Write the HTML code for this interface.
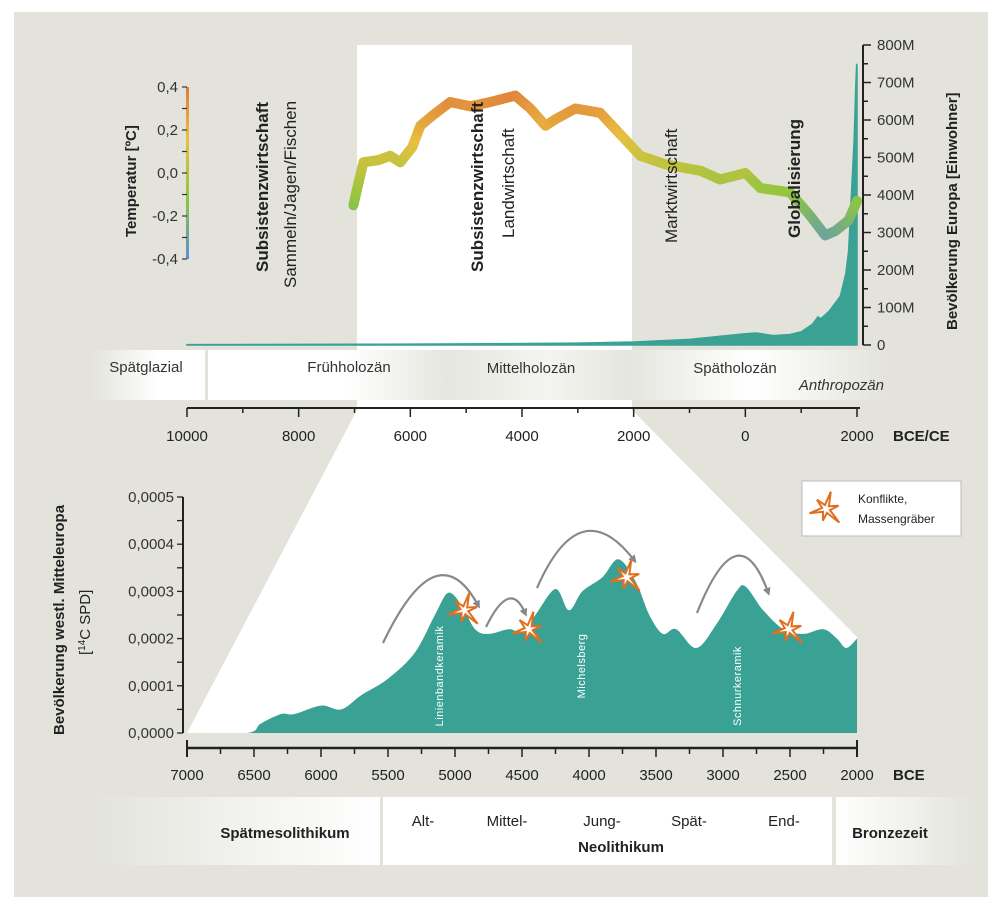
<!DOCTYPE html>
<html><head><meta charset="utf-8">
<style>
html,body{margin:0;padding:0;background:#fff;}
svg{display:block;font-family:"Liberation Sans",sans-serif;}
</style></head>
<body>
<svg id="chart" width="1000" height="909" viewBox="0 0 1000 909" xmlns="http://www.w3.org/2000/svg">
<defs>
<linearGradient id="tempbar" x1="0" y1="1" x2="0" y2="0">
<stop offset="0" stop-color="#5b8fd6"/><stop offset="0.35" stop-color="#8cc63f"/><stop offset="0.7" stop-color="#e8c040"/><stop offset="1" stop-color="#e07a3a"/>
</linearGradient>
<linearGradient id="band1" x1="0" x2="1"><stop offset="0" stop-color="#e3e3dc"/><stop offset="0.6" stop-color="#fff"/><stop offset="1" stop-color="#fff"/></linearGradient>
<linearGradient id="band2" x1="0" x2="1"><stop offset="0" stop-color="#fff"/><stop offset="0.2" stop-color="#fff"/><stop offset="0.35" stop-color="#e6e6e0"/><stop offset="0.5" stop-color="#f4f4f0"/><stop offset="0.62" stop-color="#e6e6e0"/><stop offset="0.8" stop-color="#fff"/><stop offset="1" stop-color="#e3e3dc"/></linearGradient>
<linearGradient id="band3" x1="0" x2="1"><stop offset="0" stop-color="#e3e3dc"/><stop offset="1" stop-color="#fff"/></linearGradient>
<linearGradient id="band4" x1="0" x2="1"><stop offset="0" stop-color="#fff"/><stop offset="1" stop-color="#e3e3dc"/></linearGradient>
<marker id="arr" markerWidth="8" markerHeight="8" refX="4" refY="4" orient="auto" markerUnits="userSpaceOnUse"><path d="M0,0 L8,4 L0,8 z" fill="#888"/></marker>
</defs>
<rect x="14" y="12" width="974" height="885" fill="#e3e3dc"/>
<polygon points="357,45 632,45 632,410 857,637 857,733 187,733 357,410" fill="#fff"/>
<rect x="90" y="350" width="115" height="50" fill="url(#band1)"/>
<rect x="208" y="350" width="680" height="50" fill="url(#band2)"/>
<g font-size="15" fill="#333">
<text x="146" y="372" text-anchor="middle">Spätglazial</text>
<text x="349" y="372" text-anchor="middle">Frühholozän</text>
<text x="531" y="373" text-anchor="middle">Mittelholozän</text>
<text x="735" y="373" text-anchor="middle">Spätholozän</text>
<text x="884" y="390" text-anchor="end" font-style="italic">Anthropozän</text>
</g>
<g id="topAxes"></g>
<g id="topPlot"></g>
<g font-size="17" fill="#222">
<text transform="translate(268,272) rotate(-90)" font-weight="bold">Subsistenzwirtschaft</text>
<text transform="translate(296,288) rotate(-90)">Sammeln/Jagen/Fischen</text>
<text transform="translate(483,272) rotate(-90)" font-weight="bold">Subsistenzwirtschaft</text>
<text transform="translate(514,238) rotate(-90)">Landwirtschaft</text>
<text transform="translate(677,243) rotate(-90)">Marktwirtschaft</text>
<text transform="translate(800,238) rotate(-90)" font-weight="bold">Globalisierung</text>
<text transform="translate(136,237) rotate(-90)" font-weight="bold" font-size="15">Temperatur [ºC]</text>
<text transform="translate(957,330) rotate(-90)" font-weight="bold" font-size="15">Bevölkerung Europa [Einwohner]</text>
<text transform="translate(64,735) rotate(-90)" font-weight="bold" font-size="15">Bevölkerung westl. Mitteleuropa</text>
<text transform="translate(90,655) rotate(-90)" font-size="15">[<tspan font-size="10" dy="-5">14</tspan><tspan dy="5">C SPD]</tspan></text>
</g>
<g id="botPlot"></g>
<g id="botAxes"></g>
<g>
<rect x="802" y="481" width="159" height="55" fill="#fff" stroke="#bbb"/>
<text x="858" y="503" font-size="12" fill="#222">Konflikte,</text>
<text x="858" y="523" font-size="12" fill="#222">Massengräber</text>
</g>
<rect x="90" y="797" width="290" height="68" fill="url(#band3)"/>
<rect x="383" y="797" width="449" height="68" fill="#fff"/>
<rect x="836" y="797" width="140" height="68" fill="url(#band4)"/>
<g font-size="15" fill="#222">
<text x="285" y="838" text-anchor="middle" font-weight="bold">Spätmesolithikum</text>
<text x="423" y="826" text-anchor="middle">Alt-</text>
<text x="507" y="826" text-anchor="middle">Mittel-</text>
<text x="602" y="826" text-anchor="middle">Jung-</text>
<text x="689" y="826" text-anchor="middle">Spät-</text>
<text x="784" y="826" text-anchor="middle">End-</text>
<text x="621" y="852" text-anchor="middle" font-weight="bold">Neolithikum</text>
<text x="890" y="838" text-anchor="middle" font-weight="bold">Bronzezeit</text>
</g>
</svg>
<script>
const NS="http://www.w3.org/2000/svg";
const tempYears=[-7020,-6950,-6840,-6570,-6360,-6180,-5965,-5820,-5590,-5285,-4925,-4570,-4120,-3850,-3580,-3400,-3045,-2600,-2240,-1880,-1430,-800,-450,0,270,800,1165,1430,1610,1850,2000];
const tempValues=[-0.15,-0.07,0.05,0.06,0.08,0.05,0.12,0.22,0.27,0.33,0.31,0.33,0.36,0.30,0.22,0.25,0.30,0.28,0.18,0.08,0.04,0.01,-0.03,0.0,-0.07,-0.09,-0.2,-0.29,-0.27,-0.22,-0.13];
const popYears=[-10000,-7000,-5000,-3000,-2000,-1000,0,200,500,800,1000,1200,1300,1350,1500,1600,1700,1800,1850,1900,1950,1980,1995,2000];
const popValues=[1,2,3,5,8,15,30,32,25,28,35,55,75,70,90,110,130,190,250,400,550,700,750,740];
const tempTicks=[-0.4,-0.2,0.0,0.2,0.4];
const tempTickLabels=["-0,4","-0,2","0,0","0,2","0,4"];
const popTicks=[0,100,200,300,400,500,600,700,800];
const popTickLabels=["0","100M","200M","300M","400M","500M","600M","700M","800M"];
const topXTicks=[-10000,-8000,-6000,-4000,-2000,0,2000];
const topXTickLabels=["10000","8000","6000","4000","2000","0","2000"];
const spdYears=[7000,6550,6450,6300,6200,6000,5850,5700,5500,5300,5150,5050,4950,4850,4750,4600,4500,4400,4250,4150,4050,3900,3780,3650,3550,3450,3350,3200,3050,2900,2830,2700,2550,2400,2250,2150,2080,2000];
const spdValues=[0,0,0.00002,0.00004,0.00004,0.000058,0.00005,0.00008,0.000115,0.00017,0.00025,0.000297,0.00027,0.00022,0.00021,0.00022,0.000215,0.00025,0.000305,0.00026,0.0003,0.00033,0.000368,0.00032,0.00025,0.00021,0.00022,0.00018,0.00023,0.0003,0.00031,0.00026,0.00022,0.00021,0.00022,0.0002,0.00018,0.0002];
const spdTicks=[0,0.0001,0.0002,0.0003,0.0004,0.0005];
const spdTickLabels=["0,0000","0,0001","0,0002","0,0003","0,0004","0,0005"];
const botXTicks=[7000,6500,6000,5500,5000,4500,4000,3500,3000,2500,2000];
const conflictYears=[4930,4450,3720,2510];
const conflictValues=[0.00026,0.00022,0.00033,0.00022];
const xTop=y=>187+(y+10000)*670/12000;
const yTemp=t=>173-t*215;
const yPop=p=>345-p*0.375;
const xBot=y=>187+(7000-y)*670/5000;
const ySpd=v=>733-v*472000;
function el(tag,attrs,parent,txt){const e=document.createElementNS(NS,tag);for(const k in attrs)e.setAttribute(k,attrs[k]);if(txt!==undefined)e.textContent=txt;parent.appendChild(e);return e;}
const topAxes=document.getElementById('topAxes'),topPlot=document.getElementById('topPlot');
const botPlot=document.getElementById('botPlot'),botAxes=document.getElementById('botAxes');
let ax=el('g',{},topAxes);


el('line',{x1:187,y1:408,x2:860,y2:408,stroke:'#222','stroke-width':2},ax);
for(let y=-10000;y<=2000;y+=1000){el('line',{x1:xTop(y),y1:408,x2:xTop(y),y2:y%2000===0?417:413,stroke:'#222','stroke-width':1.5},ax);}
topXTicks.forEach((t,i)=>{el('text',{x:xTop(t),y:441,'text-anchor':'middle','font-size':15,fill:'#222'},ax,topXTickLabels[i]);});
el('text',{x:893,y:441,'font-size':15,'font-weight':'bold',fill:'#222'},ax,'BCE/CE');
let ta=el('g',{},topAxes);


el('rect',{x:186,y:yTemp(0.4),width:3,height:yTemp(-0.4)-yTemp(0.4),fill:'url(#tempbar)'},ta);
for(let t=-0.4;t<=0.401;t+=0.1){el('line',{x1:182,y1:yTemp(t),x2:187,y2:yTemp(t),stroke:'#333','stroke-width':1.2},ta);}
tempTicks.forEach((t,i)=>{el('text',{x:178,y:yTemp(t)+5,'text-anchor':'end','font-size':15,fill:'#333'},ta,tempTickLabels[i]);});
let pa=el('g',{},topAxes);


el('line',{x1:863,y1:yPop(0),x2:863,y2:yPop(800),stroke:'#222','stroke-width':2},pa);
for(let p=0;p<=800;p+=50){el('line',{x1:863,y1:yPop(p),x2:p%100===0?871:868,y2:yPop(p),stroke:'#222','stroke-width':1.5},pa);}
popTicks.forEach((p,i)=>{el('text',{x:877,y:yPop(p)+5,'font-size':15,fill:'#333'},pa,popTickLabels[i]);});
let d='M'+xTop(popYears[0])+','+yPop(0);
popYears.forEach((y,i)=>{d+=' L'+xTop(y).toFixed(1)+','+yPop(popValues[i]).toFixed(1);});
d+=' L'+xTop(popYears[popYears.length-1])+','+yPop(0)+' Z';
let pArea=el('path',{d:d,fill:'#3aa195',stroke:'#3aa195','stroke-width':1.5},topPlot);


function tcol(t){const stops=[[-0.4,[91,143,214]],[-0.12,[140,198,63]],[0.16,[232,192,64]],[0.4,[224,122,58]]];
 if(t<=stops[0][0])return 'rgb('+stops[0][1]+')';for(let i=1;i<stops.length;i++){if(t<=stops[i][0]){const f=(t-stops[i-1][0])/(stops[i][0]-stops[i-1][0]);const a=stops[i-1][1],b=stops[i][1];return 'rgb('+a.map((v,k)=>Math.round(v+(b[k]-v)*f)).join(',')+')';}}return 'rgb('+stops[3][1]+')';}
let tg=el('g',{},topPlot);


for(let i=0;i<tempYears.length-1;i++){
 const n=8;for(let k=0;k<n;k++){const f0=k/n,f1=(k+1)/n;
  const y0=tempYears[i]+(tempYears[i+1]-tempYears[i])*f0,y1=tempYears[i]+(tempYears[i+1]-tempYears[i])*f1;
  const v0=tempValues[i]+(tempValues[i+1]-tempValues[i])*f0,v1=tempValues[i]+(tempValues[i+1]-tempValues[i])*f1;
  el('line',{x1:xTop(y0),y1:yTemp(v0),x2:xTop(y1),y2:yTemp(v1),stroke:tcol((v0+v1)/2),'stroke-width':10,'stroke-linecap':'round'},tg);}}
// bottom area (catmull-rom)
const P=spdYears.map((y,i)=>[xBot(y),ySpd(spdValues[i])]);
d='M'+P[0][0]+','+ySpd(0)+' L'+P[0][0]+','+P[0][1];
for(let i=0;i<P.length-1;i++){
 const p0=P[Math.max(0,i-1)],p1=P[i],p2=P[i+1],p3=P[Math.min(P.length-1,i+2)];
 const c1=[p1[0]+(p2[0]-p0[0])/6,p1[1]+(p2[1]-p0[1])/6],c2=[p2[0]-(p3[0]-p1[0])/6,p2[1]-(p3[1]-p1[1])/6];
 d+=' C'+c1[0].toFixed(1)+','+Math.min(733,c1[1]).toFixed(1)+' '+c2[0].toFixed(1)+','+Math.min(733,c2[1]).toFixed(1)+' '+p2[0].toFixed(1)+','+p2[1].toFixed(1);}
d+=' L'+P[P.length-1][0]+','+ySpd(0)+' Z';
let bArea=el('path',{d:d,fill:'#3aa195'},botPlot);


[['Linienbandkeramik',443,676],['Michelsberg',585,666],['Schnurkeramik',741,686]].forEach(c=>{
 const t=el('text',{transform:'translate('+c[1]+','+c[2]+') rotate(-90)','text-anchor':'middle','font-size':11,fill:'#fff','letter-spacing':'0.5'},botPlot,c[0]);
 
 });
[[383,643,437,530,478,605],[486,627,510,578,525,613],[537,588,580,490,634,560],[697,613,738,510,768,592]].forEach(a=>{
 const p=el('path',{d:'M'+a[0]+','+a[1]+' Q'+a[2]+','+a[3]+' '+a[4]+','+a[5],fill:'none',stroke:'#888','stroke-width':2.2,'marker-end':'url(#arr)'},botPlot);
 
 });
function star(cx,cy,parent){const pts=[];const r=[18,4,13,4,19,4,12,4,17,4,13,4];for(let i=0;i<12;i++){const a=i*Math.PI/6-1.3;pts.push((cx+r[i]*Math.cos(a)).toFixed(1)+','+(cy+r[i]*Math.sin(a)).toFixed(1));}
 return el('polygon',{points:pts.join(' '),fill:'#fff',stroke:'#e07020','stroke-width':2},parent);}
conflictYears.forEach((y,i)=>{const s=star(xBot(y),ySpd(conflictValues[i]),botPlot);
 
 });
const ls=star(826,509,document.getElementById('chart'));


let by=el('g',{},botAxes);


el('line',{x1:183,y1:ySpd(0),x2:183,y2:ySpd(0.0005),stroke:'#222','stroke-width':2},by);
for(let v=0;v<=0.00050001;v+=0.00005){el('line',{x1:177,y1:ySpd(v),x2:183,y2:ySpd(v),stroke:'#222','stroke-width':1.3},by);}
spdTicks.forEach((v,i)=>{el('text',{x:174,y:ySpd(v)+5,'text-anchor':'end','font-size':15,fill:'#333'},by,spdTickLabels[i]);});
let bx=el('g',{},botAxes);


el('line',{x1:186,y1:748,x2:858,y2:748,stroke:'#222','stroke-width':2.5},bx);
for(let y=7000;y>=2000;y-=250){el('line',{x1:xBot(y),y1:748,x2:xBot(y),y2:y%500===0?757:754,stroke:'#222','stroke-width':1.5},bx);}
el('line',{x1:xBot(7000),y1:740,x2:xBot(7000),y2:757,stroke:'#222','stroke-width':2},bx);
el('line',{x1:xBot(2000),y1:740,x2:xBot(2000),y2:757,stroke:'#222','stroke-width':2},bx);
botXTicks.forEach(t=>{el('text',{x:xBot(t),y:780,'text-anchor':'middle','font-size':15,fill:'#222'},bx,String(t));});
el('text',{x:893,y:780,'font-size':15,'font-weight':'bold',fill:'#222'},bx,'BCE');
</script>
</body></html>
